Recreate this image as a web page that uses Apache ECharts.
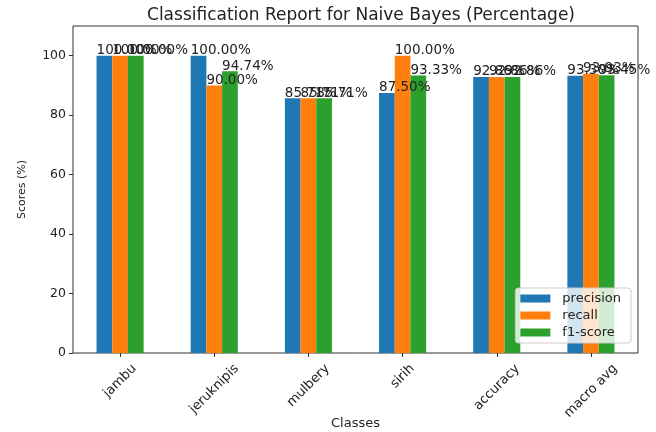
<!DOCTYPE html>
<html>
<head>
<meta charset="utf-8">
<script src="https://cdn.jsdelivr.net/npm/echarts@6/dist/echarts.min.js"></script>
<style>
  html, body { margin: 0; padding: 0; background: #fff; }
  #main { width: 656px; height: 432px; }
</style>
</head>
<body>
<div id="main"></div>
<script>
// values from the classification report (percent)
const classes = ['jambu', 'jeruknipis', 'mulbery', 'sirih', 'accuracy', 'macro avg'];
const precision = [100, 100, 85.71, 87.5, 92.86, 93.30];
const recall = [100, 90, 85.71, 100, 92.86, 93.93];
const f1Score = [100, 94.74, 85.71, 93.33, 92.86, 93.45];
const scoreTicks = [0, 20, 40, 60, 80, 100];

const font = 'DejaVu Sans';
const textColor = '#222';
const xFont = 13;

function barSeries(name, data, color) {
  return {
    name: name,
    type: 'bar',
    data: data,
    barWidth: '16.67%',
    barGap: '0%',
    itemStyle: { color: color },
    label: {
      show: true,
      position: [0, 0],
      align: 'left',
      verticalAlign: 'bottom',
      offset: [0, 2],
      fontFamily: font,
      fontSize: 13.5,
      color: textColor,
      formatter: p => p.value.toFixed(2) + '%'
    }
  };
}

const option = {
  animation: false,
  textStyle: { fontFamily: font },
  title: {
    text: 'Classification Report for Naive Bayes (Percentage)',
    left: 356,
    top: 2,
    textAlign: 'center',
    textStyle: { fontFamily: font, fontSize: 17, fontWeight: 'normal', color: textColor }
  },
  legend: {
    orient: 'vertical',
    right: 25,
    bottom: 89,
    icon: 'rect',
    itemWidth: 30,
    itemHeight: 8,
    itemGap: 4,
    padding: [4, 10, 4, 5],
    backgroundColor: 'rgba(255,255,255,0.8)',
    borderColor: '#cccccc',
    borderWidth: 1,
    borderRadius: 3,
    textStyle: { fontFamily: font, fontSize: 13, color: textColor, padding: [0, 0, 0, 7] }
  },
  grid: {
    left: 73,
    right: 18,
    top: 26,
    bottom: 79,
    outerBoundsMode: 'none',
    show: true,
    borderColor: '#333',
    borderWidth: 1
  },
  xAxis: {
    type: 'category',
    data: classes,
    name: 'Classes',
    nameLocation: 'middle',
    nameGap: 64,
    nameTextStyle: { fontFamily: font, fontSize: 13, color: textColor },
    axisLine: { show: false },
    axisTick: { show: true, alignWithLabel: true, length: 4, lineStyle: { color: '#333' } },
    axisLabel: { show: false }
  },
  yAxis: {
    type: 'value',
    min: 0,
    max: 110,
    name: 'Scores (%)',
    nameLocation: 'middle',
    nameRotate: 90,
    nameGap: 45,
    nameTextStyle: { fontFamily: font, fontSize: 11, color: textColor },
    splitLine: { show: false },
    axisLine: { show: false },
    axisTick: { show: true, length: 4, customValues: scoreTicks, lineStyle: { color: '#333' } },
    axisLabel: {
      customValues: scoreTicks,
      margin: 7,
      fontFamily: font,
      fontSize: 12.5,
      color: textColor
    }
  },
  series: [
    barSeries('precision', precision, '#1f77b4'),
    barSeries('recall', recall, '#ff7f0e'),
    barSeries('f1-score', f1Score, '#2ca02c')
  ]
};

const chart = echarts.init(document.getElementById('main'));
chart.setOption(option);

// rotated class labels, centred under each tick like matplotlib's rotation=45
const measure = document.createElement('canvas').getContext('2d');
measure.font = xFont + 'px "' + font + '"';
const baseY = chart.convertToPixel({ yAxisIndex: 0 }, 0);
chart.setOption({
  graphic: classes.map(name => {
    const cx = chart.convertToPixel({ xAxisIndex: 0 }, name);
    const w = measure.measureText(name).width;
    return {
      type: 'text',
      x: cx + 0.3535 * (w - xFont),
      y: baseY + 9,
      rotation: Math.PI / 4,
      style: {
        text: name,
        fontFamily: font,
        fontSize: xFont,
        fill: textColor,
        align: 'right',
        verticalAlign: 'top'
      }
    };
  })
});
</script>
</body>
</html>
